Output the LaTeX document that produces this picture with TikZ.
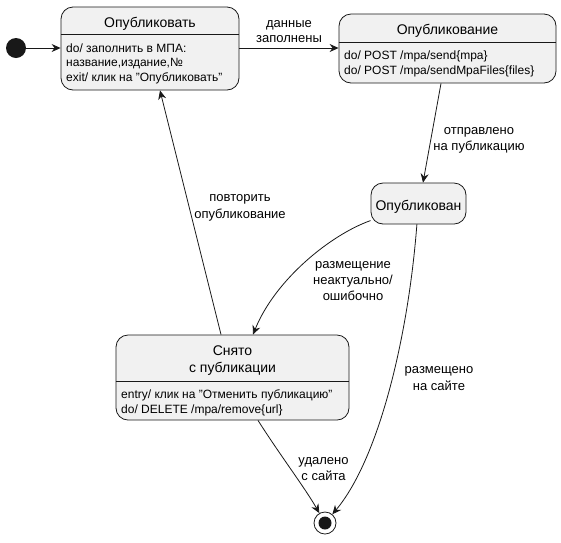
\documentclass[tikz,border=0pt]{standalone}
\usepackage{fontspec}
\setmainfont{Liberation Sans}
\usetikzlibrary{arrows.meta,calc}
\definecolor{statefill}{HTML}{F1F1F1}
\definecolor{linecol}{HTML}{181818}
\begin{document}
\begin{tikzpicture}[x=1pt,y=-1pt,
  statebox/.style={draw=linecol, fill=statefill, rounded corners=12pt, line width=0.8pt, inner sep=0pt},
  ttl/.style={font=\fontsize{14}{16}\selectfont, anchor=base, inner sep=0pt},
  bod/.style={font=\fontsize{12}{14}\selectfont, anchor=base west, inner sep=0pt},
  lbl/.style={font=\fontsize{13}{15}\selectfont, anchor=base, inner sep=0pt},
  arr/.style={draw=linecol, line width=0.8pt, -{Stealth[length=9pt,width=8pt,inset=3pt]}},
  sep/.style={draw=linecol, line width=0.8pt}
]
\useasboundingbox (0,0) rectangle (561,542);

% states
\node[statebox, minimum width=178pt, minimum height=83pt] (s1) at (150,48.5) {};
\draw[sep] (s1.west |- 0,34) -- (s1.east |- 0,34);
\node[ttl] (s1t) at (150,27) {Опубликовать};
\node[bod] (s1b1) at (66,52) {do/ заполнить в МПА:};
\node[bod] (s1b2) at (66,66.5) {название,издание,№};
\node[bod] (s1b3) at (66,81) {exit/ клик на "Опубликовать"};

\node[statebox, minimum width=217pt, minimum height=69pt] (s2) at (447.5,48.5) {};
\draw[sep] (s2.west |- 0,42) -- (s2.east |- 0,42);
\node[ttl] (s2t) at (447.5,34) {Опубликование};
\node[bod] (s2b1) at (344,59) {do/ POST /mpa/send\{mpa\}};
\node[bod] (s2b2) at (344,74) {do/ POST /mpa/sendMpaFiles\{files\}};

\node[statebox, minimum width=95pt, minimum height=41pt] (s3) at (418.5,203.5) {};
\node[ttl] (s3t) at (418.5,210) {Опубликован};

\node[statebox, minimum width=233pt, minimum height=85pt] (s4) at (232.5,377.5) {};
\draw[sep] (s4.west |- 0,381) -- (s4.east |- 0,381);
\node[ttl] (s4t1) at (232.5,355) {Снято};
\node[ttl] (s4t2) at (232.5,372) {с публикации};
\node[bod] (s4b1) at (121,398) {entry/ клик на "Отменить публикацию"};
\node[bod] (s4b2) at (121,413) {do/ DELETE /mpa/remove\{url\}};

% pseudo states
\node[circle, fill=linecol, minimum size=20pt, inner sep=0pt] (init) at (16,48) {};
\node[circle, draw=linecol, line width=0.8pt, minimum size=22pt, inner sep=0pt] (fin) at (325,523) {};
\node[circle, fill=linecol, minimum size=13pt, inner sep=0pt] (fincore) at (fin) {};

% transitions
\draw[arr] (init) -- (s1.west |- init);
\draw[arr] (s1.east |- 0,48) -- (s2.west |- 0,48);
\draw[arr] (441,0 |- s2.south) -- (423,0 |- s3.north);
\draw[arr] (221,0 |- s4.north) -- (160,0 |- s1.south);
\draw[arr] (s3) .. controls (330,235) and (275,280) .. (253,0 |- s4.north);
\draw[arr] (s3) .. controls (408,340) and (378,460) .. (fin);
\draw[arr] (258,0 |- s4.south) .. controls (280,455) and (305,488) .. (fin);

% labels
\node[lbl] (l1a) at (289,27) {данные};
\node[lbl] (l1b) at (289,42) {заполнены};
\node[lbl] (l2a) at (479,134) {отправлено};
\node[lbl] (l2b) at (479,150) {на публикацию};
\node[lbl] (l3a) at (240,201) {повторить};
\node[lbl] (l3b) at (240,218) {опубликование};
\node[lbl] (l4a) at (353,268) {размещение};
\node[lbl] (l4b) at (353,284) {неактуально/};
\node[lbl] (l4c) at (353,300) {ошибочно};
\node[lbl] (l5a) at (439,373) {размещено};
\node[lbl] (l5b) at (439,390) {на сайте};
\node[lbl] (l6a) at (323.5,464) {удалено};
\node[lbl] (l6b) at (323.5,480) {с сайта};
\end{tikzpicture}
\end{document}
